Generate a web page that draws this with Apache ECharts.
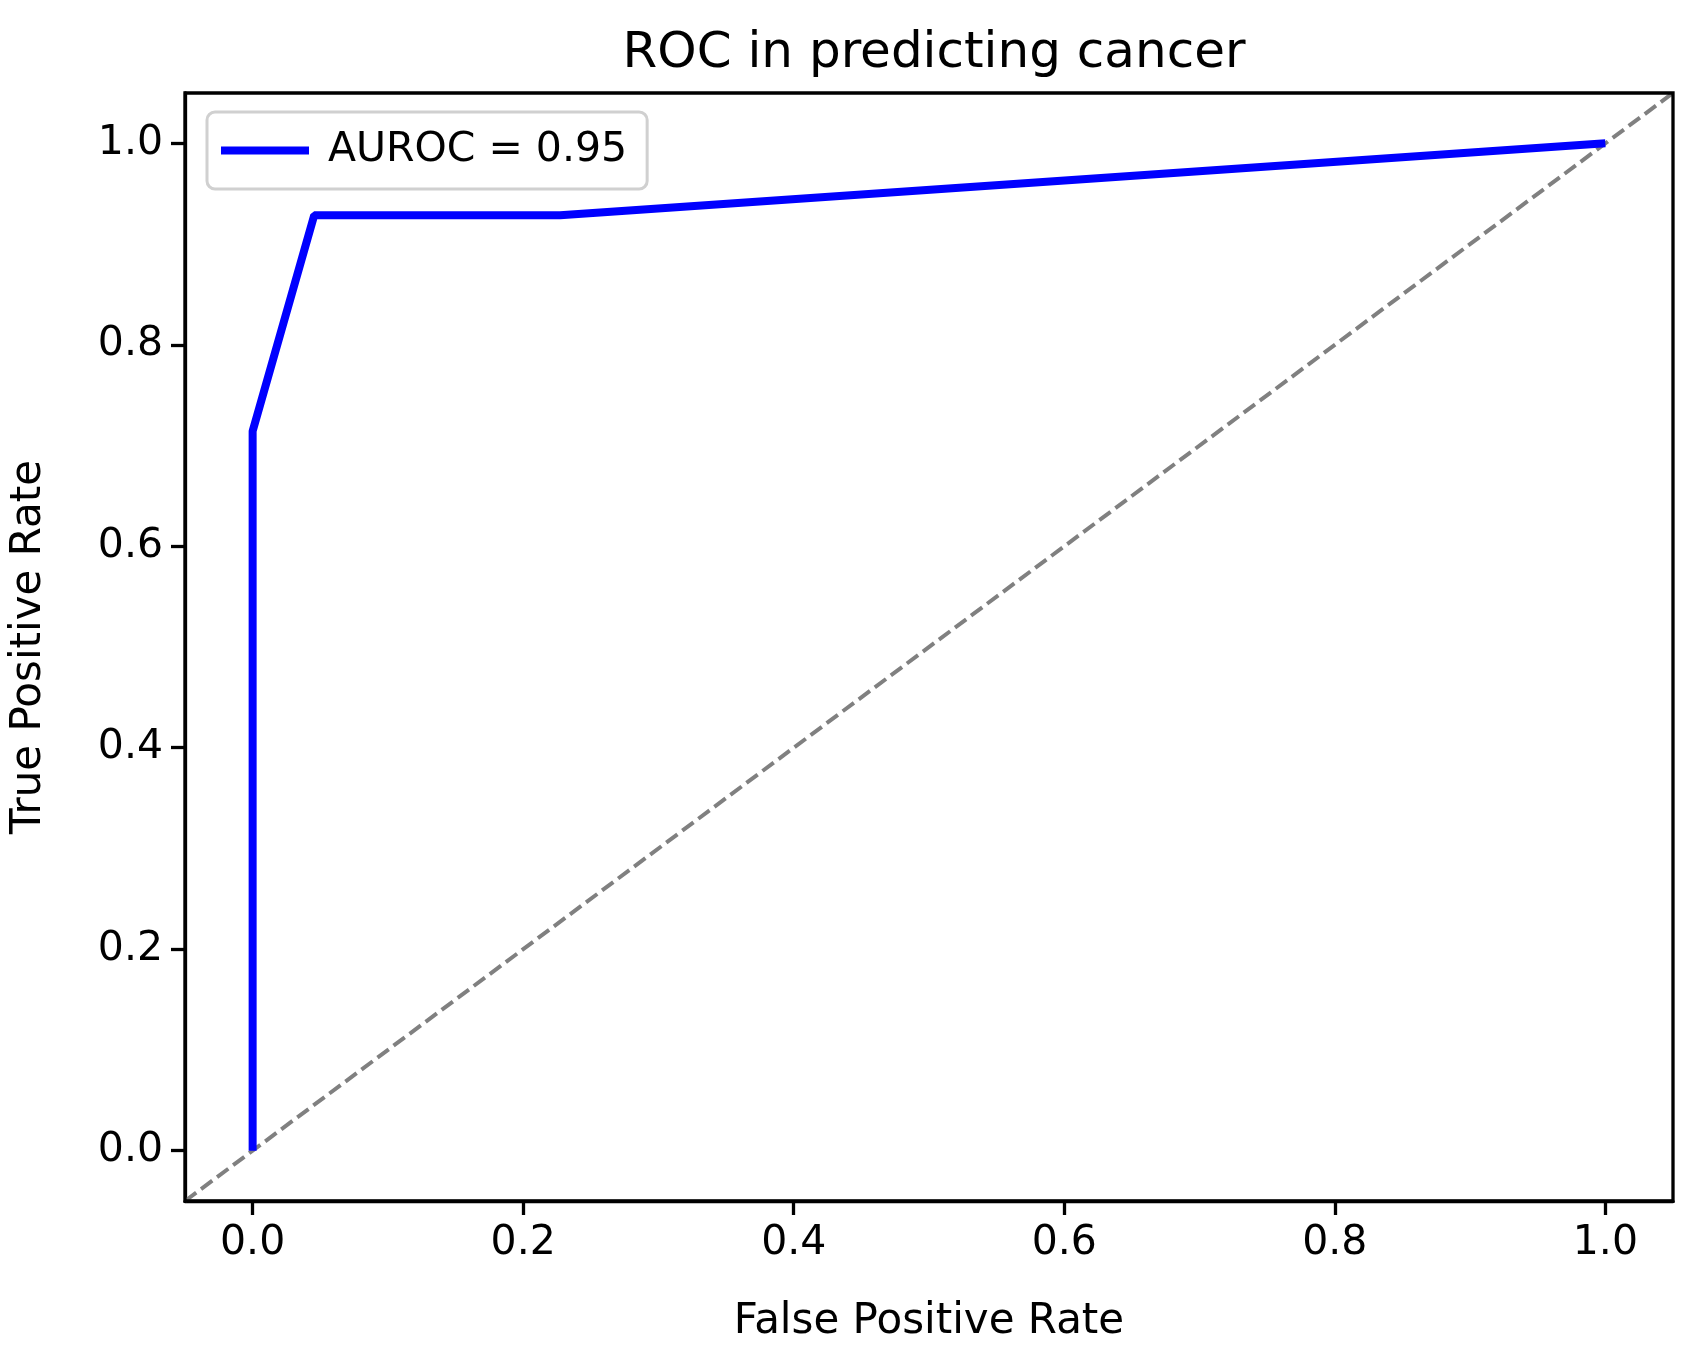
<!DOCTYPE html>
<html>
<head>
<meta charset="utf-8">
<script src="https://cdn.jsdelivr.net/npm/echarts@6/dist/echarts.min.js"></script>
<style>html,body{margin:0;padding:0;background:#fff}#main{width:1702px;height:1361px}</style>
</head>
<body>
<div id="main"></div>
<script>
// ROC 曲线数据
var fpr = [0, 0, 0.0455, 0.2273, 1];
var tpr = [0, 0.7143, 0.9286, 0.9286, 1];
var chanceX = [-0.05, 1.05];
var chanceY = [-0.05, 1.05];
var xTicks = [0, 0.2, 0.4, 0.6, 0.8, 1.0];
var seriesName = 'AUROC = 0.95';

var chart = echarts.init(document.getElementById('main'));
var font = 'DejaVu Sans';

function axisCfg(name, gap, rotate) {
	return {
		type: 'value', min: -0.05, max: 1.05, interval: 0.05,
		name: name, nameLocation: 'middle', nameGap: gap,
		nameTextStyle: { fontFamily: font, fontSize: 42, color: '#000' },
		axisLine: { show: true, onZero: false, lineStyle: { color: '#000', width: 3.3 } },
		axisTick: {
			show: true, length: 14, inside: false, lineStyle: { color: '#000', width: 3.3 },
			customValues: xTicks
		},
		axisLabel: {
			fontFamily: font, fontSize: 41, color: '#000', margin: 22,
			customValues: xTicks,
			formatter: function(v) { return v.toFixed(1); }
		},
		splitLine: { show: false }
	};
}

var option = {
	animation: false,
	title: {
		text: 'ROC in predicting cancer', left: 929, top: 24, textAlign: 'center',
		textStyle: { fontFamily: font, fontSize: 50, fontWeight: 'normal', color: '#000' }
	},
	legend: {
		left: 207, top: 112, orient: 'vertical',
		data: [{ name: seriesName, icon: 'rect' }],
		itemWidth: 88, itemHeight: 8, itemGap: 10,
		padding: [18, 20, 18, 14],
		borderColor: '#d0d0d0', borderWidth: 3, borderRadius: 8,
		textStyle: { fontFamily: font, fontSize: 41, color: '#000', padding: [0, 0, 0, 14] }
	},
	grid: { left: 185, right: 29, top: 93, bottom: 160 },
	xAxis: (function() {
		var a = axisCfg('False Positive Rate', 100);
		a.axisLine.show = true;
		return a;
	})(),
	yAxis: axisCfg('True Positive Rate', 135),
	series: [
		{
			type: 'line', name: 'chance', data: chanceX.map(function(x, i) { return [x, chanceY[i]]; }),
			symbol: 'none', silent: true,
			lineStyle: { color: '#808080', width: 4, type: [14, 6] }
		},
		{
			type: 'line', name: seriesName, data: fpr.map(function(x, i) { return [x, tpr[i]]; }),
			symbol: 'none',
			lineStyle: { color: '#0000ff', width: 8 },
			itemStyle: { color: '#0000ff' }
		}
	]
};
chart.setOption(option);
// 上边框和右边框
chart.setOption({
	graphic: [{
		type: 'rect', shape: { x: 185, y: 93, width: 1488, height: 1108 },
		style: { fill: 'none', stroke: '#000', lineWidth: 3.3 }, silent: true, z: 10
	}]
});
</script>
</body>
</html>
